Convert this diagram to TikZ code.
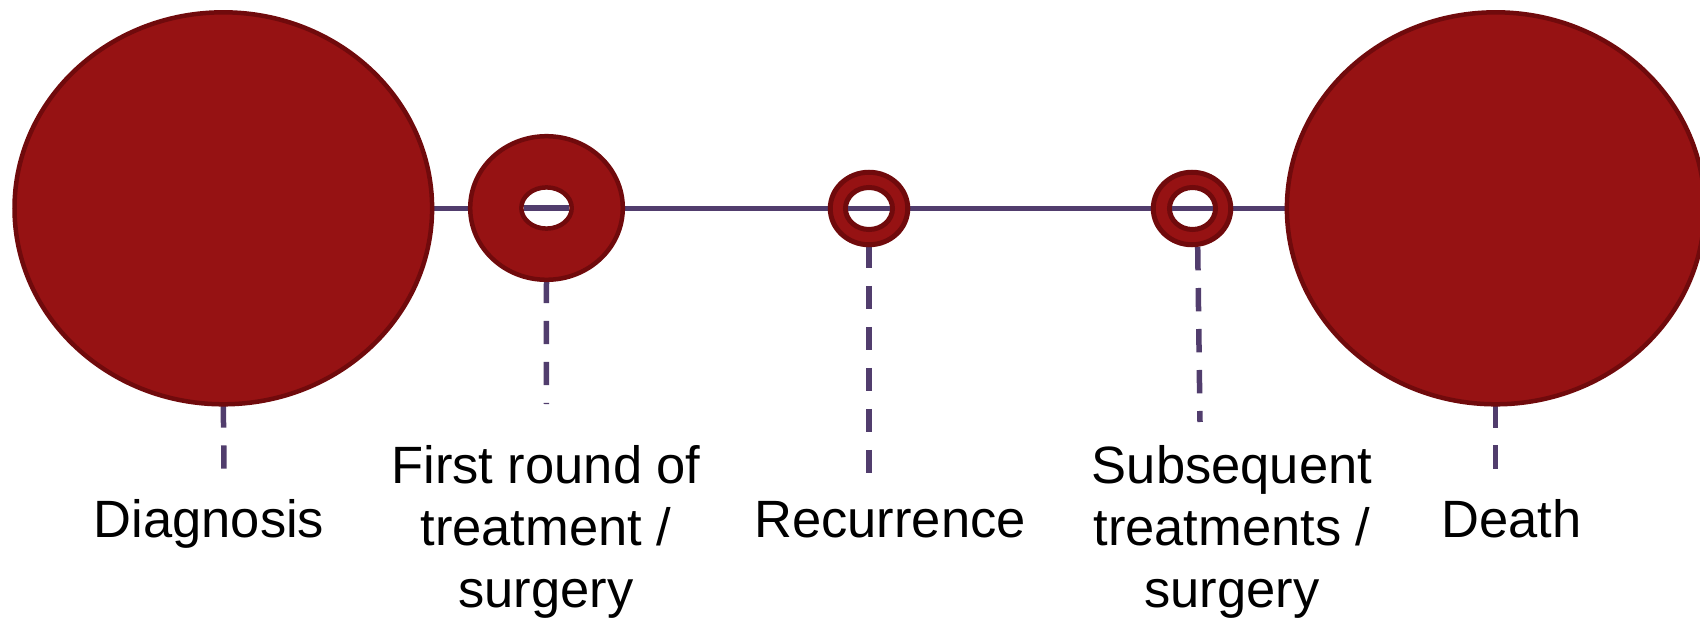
\documentclass[tikz,border=0pt]{standalone}
\usepackage{fontspec}
\setmainfont{Liberation Sans}
\usetikzlibrary{shapes.geometric,backgrounds,calc}
\definecolor{dotfill}{RGB}{150,18,19}
\definecolor{dotline}{RGB}{112,10,12}
\definecolor{tline}{RGB}{81,61,109}
\tikzset{
  dot/.style={ellipse, draw=dotline, fill=dotfill, line width=4.5pt, inner sep=0pt, outer sep=0pt},
  hole/.style={ellipse, draw=dotline, fill=white, line width=4.5pt, inner sep=0pt, outer sep=0pt},
  tl/.style={draw=tline, line width=5.5pt},
  dl/.style={draw=tline, line width=5.5pt, dash pattern=on 23.3pt off 17.7pt},
  lbl/.style={font=\fontsize{52.5pt}{62pt}\selectfont, align=center, anchor=base, inner sep=0pt, text=black}
}
\begin{document}
\begin{tikzpicture}[x=1pt, y=-1pt]
\useasboundingbox (0,0) rectangle (1700,623);
% circles
\node[dot, minimum width=417.6pt, minimum height=392pt] (diag) at (223.3,208.3) {};
\node[dot, minimum width=417.6pt, minimum height=392pt] (death) at (1495.7,208.3) {};
\node[dot, minimum width=152.6pt, minimum height=143.6pt] (first) at (546.5,208) {};
\node[hole, minimum width=50.4pt, minimum height=41.2pt] (firsth) at (546.5,208) {};
\node[dot, minimum width=77.5pt, minimum height=72.5pt, line width=5pt] (rec) at (869,208.5) {};
\node[hole, minimum width=47pt, minimum height=42pt, line width=5pt] (rech) at (869,208.5) {};
\node[dot, minimum width=77.5pt, minimum height=72.5pt, line width=5pt] (subs) at (1192,208.5) {};
\node[hole, minimum width=46pt, minimum height=42pt, line width=5pt] (subsh) at (1192.5,208.5) {};
% end points of the dashed leaders
\coordinate (diagend) at (224,469);
\coordinate (firstend) at (546.3,404);
\coordinate (recend) at (869,474);
\coordinate (subsstart) at (1197.7,247);
\coordinate (subsend) at (1200,422);
\coordinate (deathend) at (1495.7,469);
% timeline behind circles
\begin{scope}[on background layer]
\draw[tl] (diag.center) -- (death.center);
\draw[dl] (diag.south) -- (diagend);
\draw[dl] (first.south) -- (firstend);
\draw[dl] (rec.south) -- (recend);
\draw[dl] (subsstart) -- (subsend);
\draw[dl] (death.south) -- (deathend);
\end{scope}
% timeline seen through the holes
\draw[tl, shorten <=2.3pt, shorten >=2.3pt] (firsth.west) -- (firsth.east);
\draw[tl, shorten <=2.5pt, shorten >=2.5pt] (rech.west) -- (rech.east);
\draw[tl, shorten <=2.5pt, shorten >=2.5pt] (subsh.west) -- (subsh.east);
% labels
\node[lbl] (ldiag) at (209,537) {Diagnosis};
\node[lbl] (lfirst) at (546,607) {First round of\\treatment /\\surgery};
\node[lbl] (lrec) at (890,537) {Recurrence};
\node[lbl] (lsubs) at (1232,607) {Subsequent\\treatments /\\surgery};
\node[lbl] (ldeath) at (1511.5,537) {Death};
\end{tikzpicture}
\end{document}
